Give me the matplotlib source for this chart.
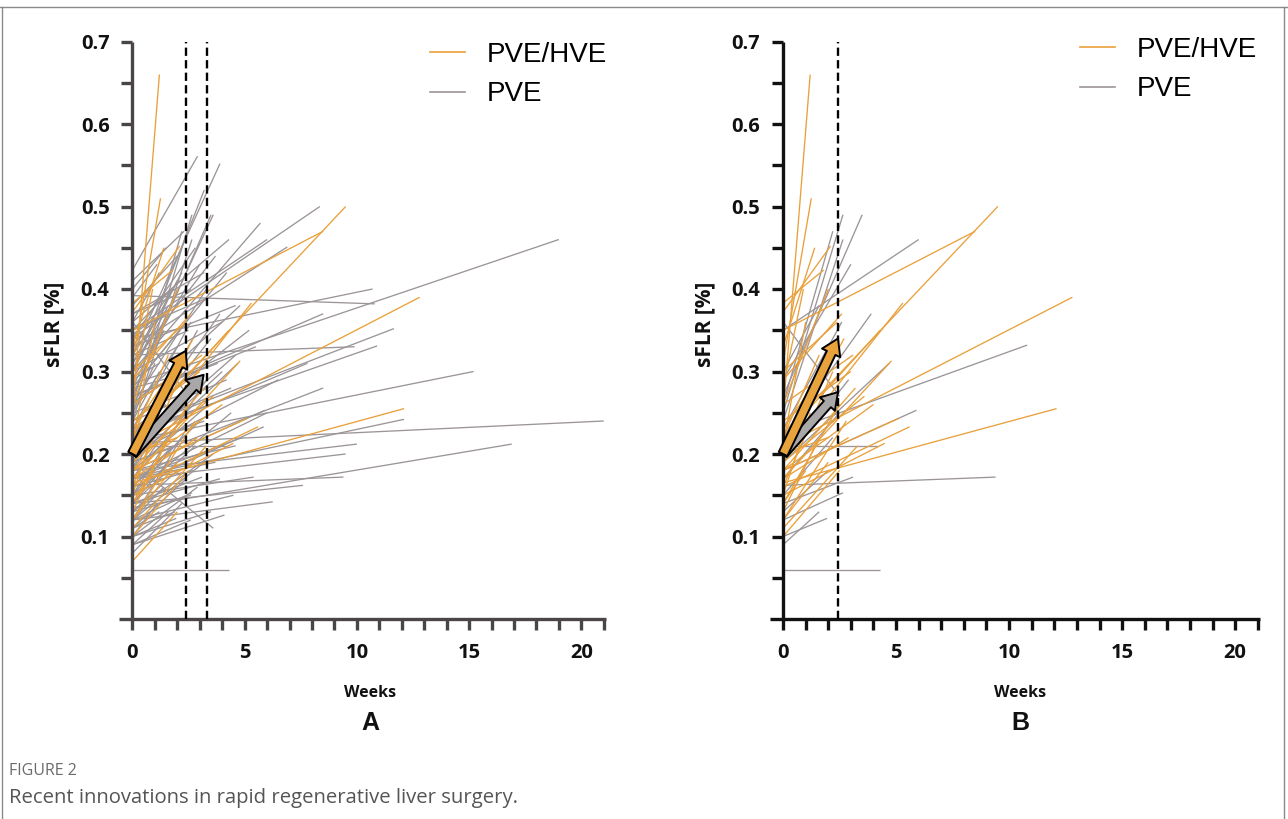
import matplotlib
matplotlib.use("Agg")
import matplotlib.pyplot as plt
from matplotlib.lines import Line2D
from matplotlib.ticker import MultipleLocator, FixedLocator

# ---------------- data (start sFLR at week 0, follow-up week, end sFLR) ----------------
# PVE/HVE patients (shown in both panels)
hve_start = [0.25, 0.31, 0.372, 0.383, 0.35, 0.225, 0.21, 0.165, 0.20, 0.22, 0.17, 0.16, 0.18, 0.15,
             0.29, 0.33, 0.26, 0.23, 0.20, 0.18, 0.14, 0.12, 0.10, 0.13, 0.16, 0.21, 0.28, 0.19,
             0.17, 0.12, 0.15, 0.24, 0.22, 0.18, 0.11, 0.30, 0.20, 0.14, 0.26]
hve_weeks = [1.2, 1.25, 2.1, 1.8, 8.5, 9.5, 12.8, 12.1, 5.3, 4.3, 4.8, 5.6, 5.1, 4.5,
             2.6, 1.4, 2.0, 2.5, 2.7, 3.2, 2.5, 2.8, 2.5, 1.6, 2.2, 1.0, 0.9, 3.6,
             2.9, 2.0, 1.2, 3.0, 1.6, 4.0, 3.3, 2.4, 2.0, 1.0, 3.1]
hve_end = [0.66, 0.51, 0.452, 0.423, 0.47, 0.50, 0.39, 0.255, 0.383, 0.35, 0.313, 0.233, 0.243, 0.213,
           0.37, 0.45, 0.40, 0.33, 0.34, 0.28, 0.26, 0.24, 0.18, 0.22, 0.30, 0.36, 0.40, 0.27,
           0.22, 0.19, 0.25, 0.30, 0.32, 0.26, 0.21, 0.36, 0.22, 0.18, 0.32]
# extra PVE/HVE patient visible only in panel A
hve_a_extra_start = [0.07]
hve_a_extra_weeks = [2.0]
hve_a_extra_end = [0.13]

# PVE patients, panel A
pve_a_start = [0.423, 0.32, 0.345, 0.392, 0.285, 0.34, 0.23, 0.227, 0.32, 0.217, 0.213, 0.135, 0.172,
               0.18, 0.17, 0.162, 0.30, 0.35, 0.36, 0.33, 0.27, 0.28, 0.30, 0.19, 0.14, 0.12, 0.15,
               0.19, 0.16, 0.17, 0.22, 0.09, 0.11, 0.06, 0.21, 0.36, 0.25, 0.27, 0.26, 0.24, 0.22,
               0.18, 0.19, 0.14, 0.12, 0.10,
               0.40, 0.38, 0.36, 0.34, 0.33, 0.31, 0.30, 0.29, 0.28, 0.27, 0.26, 0.25, 0.24, 0.23,
               0.22, 0.21, 0.20, 0.20, 0.19, 0.19, 0.18, 0.18, 0.17, 0.17, 0.16, 0.16, 0.15, 0.15,
               0.14, 0.14, 0.13, 0.13, 0.12, 0.12, 0.11, 0.10, 0.10, 0.09, 0.08, 0.26, 0.24, 0.21,
               0.28, 0.31, 0.37, 0.35, 0.20, 0.17, 0.23, 0.22, 0.32, 0.27,
               0.41, 0.39, 0.37, 0.35, 0.34, 0.33, 0.32, 0.30, 0.29, 0.28, 0.27, 0.26, 0.25, 0.24,
               0.23, 0.22, 0.21, 0.20, 0.19, 0.18, 0.17, 0.16, 0.15, 0.14, 0.13, 0.12, 0.11, 0.10,
               0.09, 0.30, 0.25, 0.18, 0.21, 0.15, 0.12]
pve_a_weeks = [2.9, 3.9, 8.35, 10.8, 19.0, 10.7, 11.65, 10.9, 9.9, 15.2, 21.0, 16.9, 12.1,
               10.0, 9.5, 9.4, 5.7, 6.0, 4.3, 6.9, 8.5, 3.6, 3.2, 8.5, 7.6, 6.25, 5.4,
               3.6, 5.85, 6.0, 7.8, 4.1, 1.9, 4.3, 4.2, 2.5, 2.65, 3.5, 2.2, 2.65, 3.9,
               5.9, 4.7, 3.1, 2.65, 1.95,
               1.5, 2.0, 1.2, 2.8, 1.8, 2.2, 1.6, 3.0, 2.4, 1.4, 3.3, 2.0, 1.2, 2.6,
               3.5, 1.8, 2.3, 4.0, 1.5, 2.9, 2.1, 3.4, 1.3, 2.5, 3.0, 1.8, 2.2, 4.4,
               1.6, 2.8, 2.0, 3.6, 1.4, 3.2, 2.4, 1.1, 2.9, 1.6, 2.2, 4.8, 5.2, 4.6,
               4.2, 3.7, 3.2, 2.1, 6.5, 4.9, 4.4, 1.0, 1.0, 5.5,
               2.3, 1.1, 2.6, 3.4, 1.5, 4.6, 2.5, 4.0, 1.2, 2.7, 3.8, 1.6, 3.0, 4.2,
               1.5, 2.4, 3.2, 1.2, 2.0, 4.6, 3.7, 2.7, 1.4, 3.9, 2.6, 4.5, 1.2, 3.5,
               2.6, 2.0, 1.0, 1.0, 2.9, 3.3, 2.4]
pve_a_end = [0.561, 0.552, 0.50, 0.382, 0.46, 0.40, 0.352, 0.331, 0.33, 0.30, 0.24, 0.212, 0.242,
             0.212, 0.20, 0.172, 0.48, 0.46, 0.46, 0.451, 0.37, 0.49, 0.52, 0.28, 0.162, 0.142, 0.172,
             0.11, 0.233, 0.25, 0.31, 0.126, 0.13, 0.06, 0.21, 0.27, 0.49, 0.49, 0.47, 0.46, 0.37,
             0.253, 0.31, 0.172, 0.153, 0.122,
             0.45, 0.44, 0.42, 0.45, 0.40, 0.42, 0.38, 0.43, 0.36, 0.35, 0.40, 0.33, 0.30, 0.36,
             0.34, 0.28, 0.32, 0.30, 0.25, 0.29, 0.27, 0.26, 0.22, 0.25, 0.24, 0.21, 0.22, 0.25,
             0.19, 0.21, 0.18, 0.20, 0.16, 0.19, 0.17, 0.14, 0.16, 0.13, 0.14, 0.38, 0.35, 0.32,
             0.42, 0.44, 0.42, 0.41, 0.29, 0.22, 0.28, 0.26, 0.36, 0.33,
             0.47, 0.43, 0.40, 0.39, 0.37, 0.38, 0.35, 0.36, 0.31, 0.30, 0.31, 0.29, 0.28, 0.29,
             0.26, 0.25, 0.24, 0.22, 0.21, 0.21, 0.19, 0.18, 0.17, 0.17, 0.15, 0.15, 0.13, 0.13,
             0.12, 0.41, 0.31, 0.24, 0.35, 0.29, 0.23]

# PVE patients, panel B
pve_b_start = [0.35, 0.225, 0.162, 0.06, 0.21, 0.36, 0.25, 0.27, 0.26, 0.24, 0.22, 0.18, 0.19,
               0.14, 0.12, 0.10, 0.20, 0.17, 0.15, 0.29, 0.30, 0.23, 0.19, 0.13, 0.09]
pve_b_weeks = [6.0, 10.8, 9.4, 4.3, 4.2, 2.5, 2.65, 3.5, 2.2, 2.65, 3.9, 5.9, 4.7,
               3.1, 2.65, 1.95, 2.3, 2.5, 2.2, 3.0, 1.6, 2.6, 2.9, 2.0, 1.6]
pve_b_end = [0.46, 0.332, 0.172, 0.06, 0.21, 0.27, 0.49, 0.49, 0.47, 0.46, 0.37, 0.253, 0.31,
             0.172, 0.153, 0.122, 0.32, 0.25, 0.22, 0.43, 0.38, 0.36, 0.29, 0.18, 0.13]

# time cut-offs (dashed lines) and mean-trend arrows
cutoffs_a = [2.4, 3.3]
cutoffs_b = [2.43]
arrow_start = 0.20
arrow_a_hve = (2.37, 0.325)
arrow_a_pve = (3.17, 0.296)
arrow_b_hve = (2.43, 0.34)
arrow_b_pve = (2.43, 0.275)

x_labels = ["0", "5", "10", "15", "20"]
y_labels = ["0.1", "0.2", "0.3", "0.4", "0.5", "0.6", "0.7"]

ORANGE = "#E9A03B"
GRAY = "#9C9598"
TICKFONT = "Open Sans"

fig = plt.figure(figsize=(12.88, 8.19), dpi=100)

def px_rect(x0, x1, y_top, y_bot):
    W, H = 1288, 819
    return [x0 / W, 1 - y_bot / H, (x1 - x0) / W, (y_bot - y_top) / H]

def setup_axis(ax, spine_color):
    ax.set_xlim(-0.6, 21.1)
    ax.set_ylim(0, 0.7)
    for s in ("top", "right"):
        ax.spines[s].set_visible(False)
    ax.spines["left"].set_position(("data", 0))
    for s in ("left", "bottom"):
        ax.spines[s].set_color(spine_color)
        ax.spines[s].set_linewidth(2.4)
        ax.spines[s].set_capstyle("butt")
    ax.xaxis.set_major_locator(FixedLocator([0, 5, 10, 15, 20]))
    ax.set_xticklabels(x_labels)
    ax.xaxis.set_minor_locator(MultipleLocator(1))
    ax.yaxis.set_major_locator(FixedLocator([0.1, 0.2, 0.3, 0.4, 0.5, 0.6, 0.7]))
    ax.set_yticklabels(y_labels)
    ax.yaxis.set_minor_locator(FixedLocator([0.05, 0.15, 0.25, 0.35, 0.45, 0.55, 0.65]))
    ax.tick_params(which="both", direction="out", length=8, width=2.4, color=spine_color)
    ax.tick_params(axis="x", which="major", pad=9)
    ax.tick_params(axis="y", which="major", pad=8.5)
    for lab in ax.get_xticklabels() + ax.get_yticklabels():
        lab.set_fontfamily(TICKFONT)
        lab.set_fontweight("bold")
        lab.set_fontsize(14.5)
        lab.set_color("#111111")

def draw_lines(ax, starts, weeks, ends, color):
    for s, w, e in zip(starts, weeks, ends):
        ax.plot([0, w], [s, e], color=color, lw=0.95, solid_capstyle="butt", zorder=2)

def draw_arrow(ax, tip, fc):
    ax.annotate("", xy=tip, xytext=(0, arrow_start),
                arrowprops=dict(arrowstyle="simple,head_length=1.15,head_width=1.45,tail_width=0.68",
                                fc=fc, ec="black", lw=1.4, mutation_scale=10,
                                shrinkA=0, shrinkB=0), zorder=6)

def legend(ax, x_px, y_px):
    handles = [Line2D([], [], color=ORANGE, lw=1.2), Line2D([], [], color=GRAY, lw=1.2)]
    ax.legend(handles, ["PVE/HVE", "PVE"], loc="upper left",
              bbox_to_anchor=(x_px / 1288, 1 - y_px / 819), bbox_transform=fig.transFigure,
              frameon=False, prop={"family": "Liberation Sans", "size": 20},
              handlelength=1.25, handletextpad=0.8, labelspacing=0.48,
              borderpad=0, borderaxespad=0)

# ---------------- Panel A ----------------
axA = fig.add_axes(px_rect(119, 606, 41.5, 619))
setup_axis(axA, "#4A4547")
draw_lines(axA, pve_a_start, pve_a_weeks, pve_a_end, GRAY)
draw_lines(axA, hve_start, hve_weeks, hve_end, ORANGE)
draw_lines(axA, hve_a_extra_start, hve_a_extra_weeks, hve_a_extra_end, ORANGE)
for c in cutoffs_a:
    axA.plot([c, c], [0, 0.7], color="black", lw=1.7, dashes=(3.5, 1.8), zorder=5)
draw_arrow(axA, arrow_a_pve, "#A9A7A8")
draw_arrow(axA, arrow_a_hve, "#E8A33C")
legend(axA, 430, 42)

# ---------------- Panel B ----------------
axB = fig.add_axes(px_rect(769.5, 1260, 41.5, 619))
setup_axis(axB, "#111111")
draw_lines(axB, pve_b_start, pve_b_weeks, pve_b_end, GRAY)
draw_lines(axB, hve_start, hve_weeks, hve_end, ORANGE)
for c in cutoffs_b:
    axB.plot([c, c], [0, 0.7], color="black", lw=1.7, dashes=(3.5, 1.8), zorder=5)
draw_arrow(axB, arrow_b_pve, "#A9A7A8")
draw_arrow(axB, arrow_b_hve, "#E8A33C")
legend(axB, 1080, 37)

# ---------------- labels ----------------
def ftext(x, y, s, **kw):
    fig.text(x / 1288, 1 - y / 819, s, **kw)

for cx, ylx, letter in ((370, 54, "A"), (1020, 705, "B")):
    ftext(cx, 693, "Weeks", ha="center", va="center", family=TICKFONT, weight="bold",
          size=11.5, color="#111111")
    ftext(cx, 723, letter, ha="center", va="center", family="Liberation Sans", weight="bold",
          size=18, color="#111111")
    ftext(ylx, 324, "sFLR [%]", ha="center", va="center", rotation=90, family=TICKFONT,
          weight="bold", size=15, color="#111111")

ftext(9, 771, "FIGURE 2", ha="left", va="center", family="Open Sans", size=11.5, color="#6B6B6B")
ftext(9, 798, "Recent innovations in rapid regenerative liver surgery.", ha="left", va="center",
      family="Open Sans", size=14.6, color="#555555")

# frame lines around the figure
border_kw = dict(color="#8A8A8A", lw=1.0, transform=fig.transFigure)
fig.add_artist(Line2D([0, 1], [1 - 7 / 819, 1 - 7 / 819], **border_kw))
fig.add_artist(Line2D([1.5 / 1288, 1.5 / 1288], [0, 1 - 7 / 819], **border_kw))
fig.add_artist(Line2D([1283.5 / 1288, 1283.5 / 1288], [0, 1 - 7 / 819], **border_kw))

fig.savefig("out.png", dpi=100)
